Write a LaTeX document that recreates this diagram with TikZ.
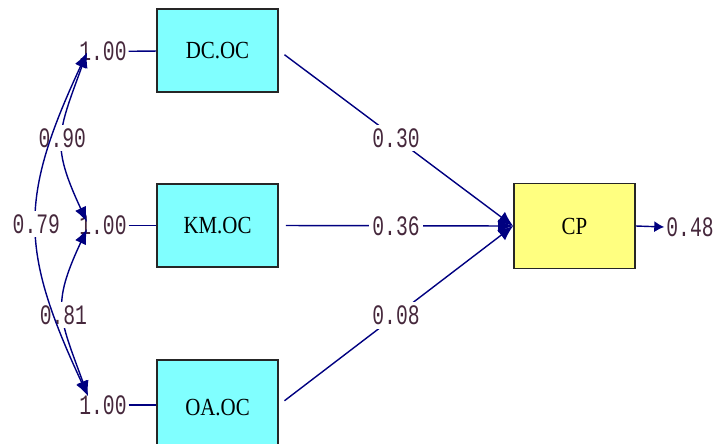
\documentclass[tikz,border=0pt]{standalone}
\usepackage{fontspec}
\usetikzlibrary{arrows.meta}
\newfontfamily\boxfont[FakeStretch=0.85]{Liberation Serif}
\newfontfamily\numfont[FakeStretch=0.7]{Liberation Mono}
\definecolor{boxcyan}{RGB}{128,255,255}
\definecolor{boxyellow}{RGB}{255,255,128}
\definecolor{pathblue}{RGB}{0,0,128}
\definecolor{numtext}{RGB}{70,40,60}
\begin{document}
\begin{tikzpicture}[
		var/.style={draw=black!85,line width=1pt,minimum width=2.42cm,minimum height=1.66cm,font=\boxfont\fontsize{14}{16}\selectfont},
		num/.style={font=\numfont\fontsize{16}{18}\selectfont,text=numtext,inner sep=1pt},
		numgap/.style={num,fill=white,inner sep=2pt},
		link/.style={draw=pathblue,line width=0.8pt},
		effect/.style={link,-{Latex[length=3mm,width=2.6mm]}},
		cov/.style={link,{Latex[length=3mm,width=2.4mm]}-{Latex[length=3mm,width=2.4mm]}}]
		\useasboundingbox (0,0) rectangle (14.3,-8.86);
		\node[var,fill=boxcyan] (dc) at (4.35,-1.01) {DC.OC};
		\node[var,fill=boxcyan] (km) at (4.35,-4.51) {KM.OC};
		\node[var,fill=boxcyan,minimum height=1.9cm] (oa) at (4.35,-8.15) {OA.OC};
		\node[var,fill=boxyellow,minimum height=1.7cm] (cp) at (11.49,-4.52) {CP};
		\node[num] (v1) at (2.06,-1.03) {1.00};
		\node[num] (v2) at (2.06,-4.51) {1.00};
		\node[num] (v3) at (2.06,-8.1) {1.00};
		\node[num] (e) at (13.8,-4.54) {0.48};
		\draw[link] (v1) -- (dc);
		\draw[link] (v2) -- (km);
		\draw[link] (v3) -- (oa.west |- v3);
		\draw[effect,shorten <=4pt] (dc.east) -- node[numgap] {0.30} (cp.west);
		\draw[effect,shorten <=4pt] (km.east) -- node[numgap] {0.36} (cp.west);
		\draw[effect,shorten <=4pt] (oa.east |- v3) -- node[numgap] {0.08} (cp.west);
		\draw[link,-{Latex[length=2mm,width=2.2mm]}] (cp.east) -- (e.west);
		\coordinate (t1) at (1.74,-1.05);
		\coordinate (t2a) at (1.74,-4.44);
		\coordinate (t2b) at (1.74,-4.58);
		\coordinate (t3) at (1.76,-7.92);
		\draw[cov] (t1) to[out=250,in=115,looseness=1.3] node[numgap] {0.90} (t2a);
		\draw[cov] (t2b) to[out=245,in=110,looseness=1.3] node[numgap,pos=0.53] {0.81} (t3);
		\draw[cov] (t1) to[out=245,in=115,looseness=1.2] node[numgap] {0.79} (t3);
\end{tikzpicture}
\end{document}
